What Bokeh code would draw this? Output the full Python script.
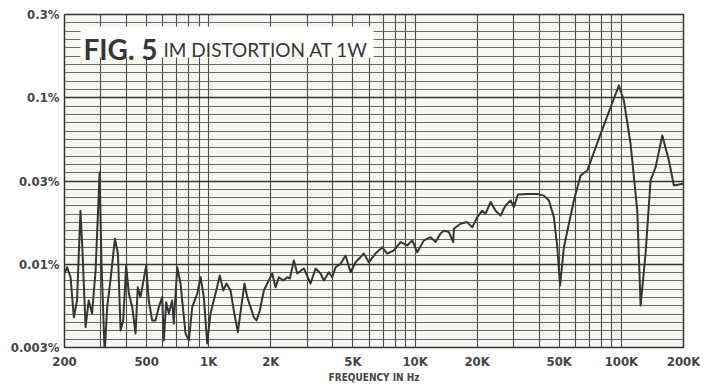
from bokeh.plotting import figure
from bokeh.models import FixedTicker, Grid, Label, BoxAnnotation, Range1d
from bokeh.embed import file_html
from bokeh.resources import INLINE

# IM distortion (%) vs frequency (Hz)
freq_hz = [
    200, 206, 214, 222, 230, 239, 244, 253, 262, 272,
    283, 296, 302, 313, 322, 334, 351, 363, 374, 385,
    398, 410, 426, 442, 453, 467, 498, 512, 532, 552,
    573, 595, 606, 622, 641, 665, 677, 704, 730, 772,
    801, 832, 880, 913, 947, 983, 1020, 1079, 1132, 1176,
    1220, 1276, 1323, 1384, 1437, 1491, 1537, 1595, 1654, 1704,
    1769, 1850, 1921, 2031, 2108, 2187, 2297, 2402, 2473, 2586,
    2686, 2891, 3115, 3294, 3483, 3613, 3821, 3969, 4118, 4355,
    4605, 4869, 5148, 5647, 5971, 6434, 6934, 7333, 7894, 8508,
    9168, 9693, 10250, 11030, 11890, 12570, 13290, 13790, 14580, 15320,
    15420, 16620, 17910, 18930, 20020, 21170, 21960, 23230, 24560, 25970,
    27460, 29040, 30130, 31500, 35000, 39120, 42110, 44530, 47090, 48900,
    50460, 52650, 58840, 63420, 68360, 79310, 88660, 97260, 102800, 110800,
    119400, 123900, 131000, 138500, 146500, 157900, 169900, 179700, 199000,
]
im_pct = [
    0.00835, 0.00910, 0.00793, 0.00456, 0.00575, 0.0199, 0.0120, 0.00397, 0.00575, 0.00480,
    0.00870, 0.0339, 0.00999, 0.00276, 0.00524, 0.00758, 0.0135, 0.0110, 0.00380, 0.00436,
    0.00932, 0.00633, 0.00524, 0.00364, 0.00691, 0.00602, 0.00932, 0.00575, 0.00436, 0.00436,
    0.00524, 0.00602, 0.00331, 0.00561, 0.00480, 0.00575, 0.00418, 0.00910, 0.00727, 0.00364,
    0.00331, 0.00524, 0.00633, 0.00793, 0.00602, 0.00317, 0.00480, 0.00633, 0.00812, 0.00660,
    0.00727, 0.00660, 0.00500, 0.00371, 0.00524, 0.00727, 0.00602, 0.00524, 0.00456, 0.00436,
    0.00500, 0.00660, 0.00727, 0.00835, 0.00691, 0.00793, 0.00758, 0.00793, 0.00779, 0.00999,
    0.00835, 0.00895, 0.00727, 0.00895, 0.00835, 0.00758, 0.00850, 0.00793, 0.00910, 0.00955,
    0.0107, 0.00850, 0.00976, 0.0110, 0.00976, 0.0110, 0.0120, 0.0110, 0.0115, 0.0129,
    0.0123, 0.0132, 0.0112, 0.0132, 0.0138, 0.0129, 0.0145, 0.0151, 0.0148, 0.0129,
    0.0155, 0.0166, 0.0170, 0.0158, 0.0182, 0.0199, 0.0191, 0.0224, 0.0199, 0.0186,
    0.0214, 0.0229, 0.0209, 0.0249, 0.0251, 0.0251, 0.0245, 0.0229, 0.0182, 0.0120,
    0.00707, 0.0120, 0.0229, 0.0324, 0.0347, 0.0576, 0.0832, 0.1124, 0.0913, 0.0502,
    0.0199, 0.00536, 0.0110, 0.0302, 0.0363, 0.0563, 0.0398, 0.0282, 0.0289,
]

x_tick_values = [200, 500, 1000, 2000, 5000, 10000, 20000, 50000, 100000, 200000]
x_tick_labels = ["200", "500", "1K", "2K", "5K", "10K", "20K", "50K", "100K", "200K"]
# chart paper is ruled in dB: the labelled lines are 10 dB apart
y_tick_values = [0.003, 0.00949, 0.03, 0.0949, 0.3]
y_tick_labels = ["0.003%", "0.01%", "0.03%", "0.1%", "0.3%"]

x_grid = [m * 10 ** k for k in (2, 3, 4, 5) for m in range(1, 10) if 200 <= m * 10 ** k <= 200000]
y_grid = [0.3 * 10 ** (-k / 20) for k in range(41)]

paper = "#f8f8f3"
ink = "#353535"
label_font = "DejaVu Sans Condensed"

p = figure(width=700, height=385, x_axis_type="log", y_axis_type="log",
           x_range=Range1d(200, 200000), y_range=Range1d(0.003, 0.3),
           output_backend="svg", toolbar_location=None,
           min_border_left=64, min_border_right=17, min_border_top=14, min_border_bottom=36,
           background_fill_color=paper, border_fill_color="white")
p.outline_line_color = "#333333"
p.outline_line_width = 1.5

# grids
p.xgrid.ticker = FixedTicker(ticks=x_grid)
p.xgrid.grid_line_color = "#4a4a4a"
p.xgrid.grid_line_width = 1.1
p.ygrid.ticker = FixedTicker(ticks=y_grid)
p.ygrid.grid_line_color = "#6a6a6a"
p.ygrid.grid_line_width = 1
p.add_layout(Grid(dimension=1, ticker=FixedTicker(ticks=y_tick_values),
                  grid_line_color="#333333", grid_line_width=1.6))

# axes
for ax in (p.xaxis, p.yaxis):
    ax.axis_line_color = None
    ax.major_tick_line_color = None
    ax.minor_tick_line_color = None
    ax.major_tick_out = 0
    ax.major_tick_in = 0
    ax.minor_tick_out = 0
    ax.minor_tick_in = 0
    ax.major_label_text_font = label_font
    ax.major_label_text_font_style = "bold"
    ax.major_label_text_color = "#444444"
    ax.major_label_text_font_size = "13px"
p.xaxis.ticker = FixedTicker(ticks=x_tick_values)
p.xaxis.major_label_overrides = dict(zip(x_tick_values, x_tick_labels))
p.xaxis.major_label_standoff = 6
p.xaxis.axis_label = "FREQUENCY IN Hz"
p.xaxis.axis_label_standoff = 0
p.xaxis.axis_label_text_font = label_font
p.xaxis.axis_label_text_font_style = "bold"
p.xaxis.axis_label_text_font_size = "10px"
p.xaxis.axis_label_text_color = "#444444"
p.yaxis.ticker = FixedTicker(ticks=y_tick_values)
p.yaxis.major_label_overrides = dict(zip(y_tick_values, y_tick_labels))
p.yaxis.major_label_standoff = 5

# curve
p.line(freq_hz, im_pct, line_color=ink, line_width=2, line_join="round")

# title box, placed on the chart paper
p.add_layout(BoxAnnotation(left=239, right=6290, top=0.254, bottom=0.1654,
                           fill_color="white", fill_alpha=1, line_color=None, level="annotation"))
p.add_layout(Label(x=247, y=0.185, text="FIG. 5",
                   text_font="Lato", text_font_style="bold", text_font_size="28px",
                   text_color=ink, text_baseline="alphabetic", level="overlay"))
p.add_layout(Label(x=604, y=0.185, text="IM DISTORTION AT 1W",
                   text_font="Lato", text_font_size="19px",
                   text_color=ink, text_baseline="alphabetic", level="overlay"))

open("out.html", "w").write(file_html(p, INLINE))
